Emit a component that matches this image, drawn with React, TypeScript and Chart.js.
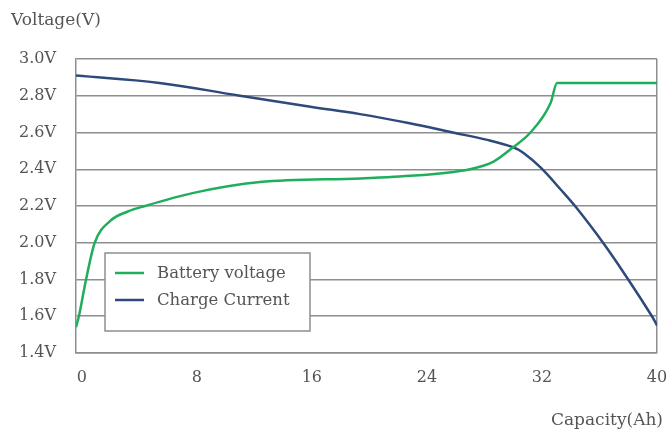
import React, { useEffect, useRef } from "react";
import { Chart, registerables } from "chart.js";

Chart.register(...registerables);

const xTickValues = [0, 8, 16, 24, 32, 40];
const yMin = 1.4;
const yMax = 3.0;
const yStep = 0.2;

const seriesNames = ["Battery voltage", "Charge Current"];

const voltageCapacity = [-0.4, -0.2, 0.3, 0.9, 2.0, 3.2, 4.4, 7.7, 12.4, 19.4, 22.1, 27.0, 28.6, 30.0, 31.2, 32.6, 33.05, 40];
const voltageValues = [1.54, 1.6, 1.8, 2.0, 2.12, 2.17, 2.2, 2.27, 2.33, 2.35, 2.36, 2.4, 2.44, 2.52, 2.6, 2.76, 2.87, 2.87];

const currentCapacity = [-0.4, 5.4, 11.0, 15.9, 19.35, 22.8, 25.8, 28.2, 30.0, 30.7, 31.9, 33.3, 34.4, 36.25, 38.0, 39.65, 40];
const currentValues = [2.91, 2.87, 2.8, 2.74, 2.7, 2.65, 2.6, 2.56, 2.52, 2.49, 2.41, 2.29, 2.19, 2.0, 1.8, 1.6, 1.55];

const GREEN = "#20ad5c";
const BLUE = "#2d4a7a";
const GRID = "#8e8e8e";
const TEXT = "#555555";
const FONT = "'DejaVu Serif'";

const overlayPlugin = {
  id: "overlay",
  afterDraw(chart: any) {
    const ctx = chart.ctx as CanvasRenderingContext2D;
    const area = chart.chartArea;
    ctx.save();
    ctx.fillStyle = TEXT;
    ctx.font = `17px ${FONT}`;
    ctx.textAlign = "left";
    ctx.textBaseline = "alphabetic";
    ctx.fillText("Voltage(V)", 11, 25);
    ctx.textAlign = "right";
    ctx.fillText("Capacity(Ah)", 663, 425);

    const bx = area.left + 29;
    const by = 253;
    const bw = 205;
    const bh = 78;
    ctx.fillStyle = "#ffffff";
    ctx.fillRect(bx, by, bw, bh);
    ctx.strokeStyle = GRID;
    ctx.lineWidth = 1.5;
    ctx.strokeRect(bx, by, bw, bh);
    const colors = [GREEN, BLUE];
    const rows = [273, 300];
    ctx.font = `16.5px ${FONT}`;
    ctx.textAlign = "left";
    ctx.textBaseline = "middle";
    seriesNames.forEach((name, i) => {
      ctx.strokeStyle = colors[i];
      ctx.lineWidth = 2.5;
      ctx.beginPath();
      ctx.moveTo(bx + 10, rows[i]);
      ctx.lineTo(bx + 39, rows[i]);
      ctx.stroke();
      ctx.fillStyle = TEXT;
      ctx.fillText(name, bx + 52, rows[i] + 1);
    });
    ctx.restore();
  },
};

export default function App() {
  const ref = useRef<HTMLCanvasElement>(null);
  useEffect(() => {
    if (!ref.current) return;
    const chart = new Chart(ref.current, {
      type: "line",
      data: {
        datasets: [
          {
            label: seriesNames[0],
            data: voltageCapacity.map((x, i) => ({ x, y: voltageValues[i] })),
            borderColor: GREEN,
            borderWidth: 2.5,
            pointRadius: 0,
            cubicInterpolationMode: "monotone",
            fill: false,
          },
          {
            label: seriesNames[1],
            data: currentCapacity.map((x, i) => ({ x, y: currentValues[i] })),
            borderColor: BLUE,
            borderWidth: 2.5,
            pointRadius: 0,
            tension: 0.4,
            fill: false,
          },
        ],
      },
      options: {
        animation: false,
        responsive: false,
        devicePixelRatio: 1,
        layout: { padding: { left: 0, right: 9, top: 59, bottom: 0 } },
        plugins: { legend: { display: false }, tooltip: { enabled: false } },
        scales: {
          x: {
            type: "linear",
            min: -0.4,
            max: 40,
            afterBuildTicks: (scale: any) => {
              scale.ticks = xTickValues.map((v) => ({ value: v }));
            },
            afterFit: (scale: any) => {
              scale.height = 79;
              scale.paddingLeft = 0;
              scale.paddingRight = 0;
            },
            grid: {
              drawTicks: false,
              color: (c: any) => (c.tick && c.tick.value === 40 ? GRID : "rgba(0,0,0,0)"),
              lineWidth: 1.5,
            },
            border: { display: true, color: GRID, width: 1.5 },
            ticks: {
              padding: 15,
              color: TEXT,
              font: { family: FONT, size: 16 },
              maxRotation: 0,
            },
          },
          y: {
            type: "linear",
            min: yMin,
            max: yMax,
            afterFit: (scale: any) => {
              scale.width = 76;
              scale.paddingTop = 0;
              scale.paddingBottom = 0;
            },
            grid: { drawTicks: false, color: GRID, lineWidth: 1.5 },
            border: { display: true, color: GRID, width: 1.5 },
            ticks: {
              stepSize: yStep,
              padding: 20,
              color: TEXT,
              font: { family: FONT, size: 16 },
              callback: (v: any) => Number(v).toFixed(1) + "V",
            },
          },
        },
      },
      plugins: [overlayPlugin],
    } as any);
    return () => chart.destroy();
  }, []);
  return (
    <div style={{ position: "fixed", left: 0, top: 0, width: 666, height: 432, background: "#fff" }}>
      <canvas ref={ref} width={666} height={432} style={{ width: 666, height: 432, display: "block" }} />
    </div>
  );
}
